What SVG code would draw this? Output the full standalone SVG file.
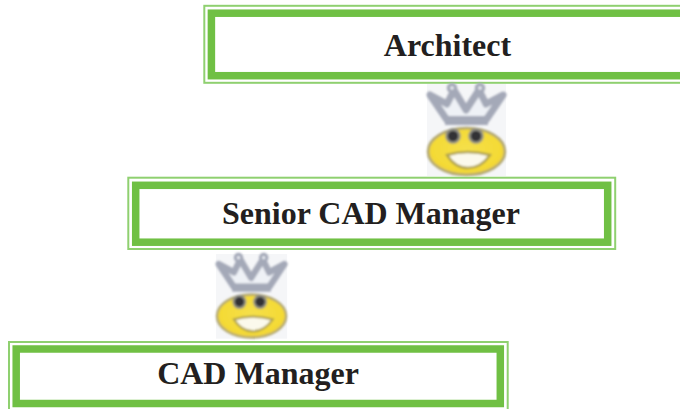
<svg xmlns="http://www.w3.org/2000/svg" width="680" height="409" viewBox="0 0 680 409">
<style>
.o{fill:none;stroke:#8fd070;stroke-width:2}
.i{fill:#fff;stroke:#70c044;stroke-width:7.500}
.t{font-family:"Liberation Serif",serif;font-weight:700;font-size:32px;fill:#231f20;text-anchor:middle}
.crown{fill:#eef1f6;stroke:#a4a9b8;stroke-width:7;stroke-linejoin:round}
.bg{fill:#f5f6f8}
.face{fill:url(#faceFill);stroke:#b0a670;stroke-width:2.500}
.eye{fill:#333336;stroke:#8d8d84;stroke-width:2.500}
.mouth{fill:#fbf9ec;stroke:#b3a54e;stroke-width:2.500}
</style>
<defs>
<radialGradient id="faceFill" cx=".5" cy=".45" r=".6">
<stop offset="0" stop-color="#f5e04a"/><stop offset=".75" stop-color="#f4da35"/><stop offset="1" stop-color="#e9c94a"/>
</radialGradient>
<filter id="soft" x="-5%" y="-5%" width="110%" height="110%"><feGaussianBlur stdDeviation="1"/></filter>
<g id="smiley">
<rect class="bg" x="0" y="0" width="79" height="92"/>
<g filter="url(#soft)">
<path class="crown" d="M3 11L20 36H59L76 11L59 20L52 6L39 26L27 6L20 20Z"/>
<circle cx="25" cy="4" r="3.500" fill="#eef1f6" stroke="#a4a9b8" stroke-width="3.500"/>
<circle cx="53" cy="4" r="3.500" fill="#eef1f6" stroke="#a4a9b8" stroke-width="3.500"/>
<rect x="18" y="32" width="43" height="9" fill="#a4a9b8"/>
<ellipse class="face" cx="39.500" cy="67.500" rx="38.500" ry="23.500"/>
<circle class="eye" cx="26" cy="52" r="6.500"/><circle class="eye" cx="49" cy="52" r="6.500"/>
<path class="mouth" d="M20 71Q40 65 63 71Q54 84 41 84Q28 84 20 71Z"/>
</g>
</g>
</defs>
<g id="connectors"/>
<g id="architect">
<rect class="o" x="204.300" y="5.800" width="490" height="77"/>
<rect class="i" x="211.400" y="13.200" width="480" height="62.500"/>
<text class="t" x="447.500" y="56">Architect</text>
</g>
<g id="icon-1"><use href="#smiley" x="427" y="84"/></g>
<g id="senior-cad-manager">
<rect class="o" x="128.300" y="177.700" width="486.900" height="71.300"/>
<rect class="i" x="135.700" y="185.300" width="472" height="56.900"/>
<text class="t" x="371" y="224">Senior CAD Manager</text>
</g>
<g id="icon-2"><use href="#smiley" transform="translate(216 254) scale(.9 .92)"/></g>
<g id="cad-manager">
<rect class="o" x="9" y="342" width="498.700" height="80"/>
<rect class="i" x="16.200" y="349" width="484.100" height="54.500"/>
<text class="t" x="258" y="384">CAD Manager</text>
</g>
</svg>
